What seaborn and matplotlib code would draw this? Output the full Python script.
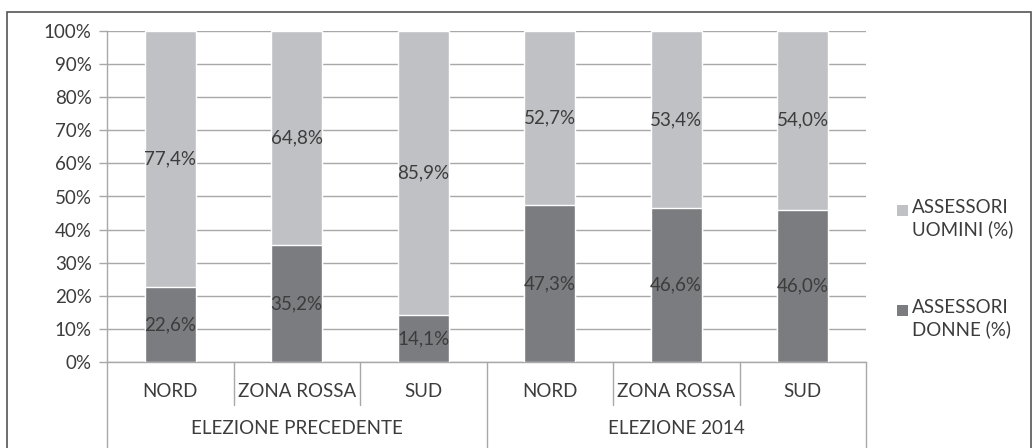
import pandas as pd
import matplotlib
matplotlib.use('Agg')
import matplotlib.pyplot as plt
import seaborn as sns
from matplotlib.patches import Rectangle

# data
groups = ['ELEZIONE PRECEDENTE', 'ELEZIONE PRECEDENTE', 'ELEZIONE PRECEDENTE',
          'ELEZIONE 2014', 'ELEZIONE 2014', 'ELEZIONE 2014']
areas = ['NORD', 'ZONA ROSSA', 'SUD', 'NORD', 'ZONA ROSSA', 'SUD']
donne = [22.6, 35.2, 14.1, 47.3, 46.6, 46.0]
uomini = [77.4, 64.8, 85.9, 52.7, 53.4, 54.0]
series_labels = ['ASSESSORI\nUOMINI (%)', 'ASSESSORI\nDONNE (%)']

df = pd.DataFrame({'key': [g + '|' + a for g, a in zip(groups, areas)],
                   'area': areas, 'group': groups,
                   'donne': donne, 'uomini': uomini})
df['totale'] = df['donne'] + df['uomini']
order = list(df['key'])

sns.set_style('white')
plt.rcParams['font.family'] = ['Lato', 'DejaVu Sans']
txt = '#3c3c3c'
light = '#c0c1c5'
dark = '#7b7c80'
line = '#a8a8a8'
fs = 13.5

W, H = 1034, 448
fig = plt.figure(figsize=(W / 100, H / 100), dpi=100)
ax = fig.add_axes([107 / W, (H - 362) / H, (866 - 107) / W, (362 - 31) / H])

sns.barplot(data=df, x='key', y='totale', order=order, color=light,
            width=0.4, saturation=1, ax=ax, zorder=2)
sns.barplot(data=df, x='key', y='donne', order=order, color=dark,
            width=0.4, saturation=1, ax=ax, zorder=3)

ax.set_xlim(-0.5, len(order) - 0.5)
ax.set_ylim(0, 100)
ax.set_yticks(range(0, 101, 10))
ax.set_yticklabels([f'{v}%' for v in range(0, 101, 10)], fontsize=fs, color=txt)
ax.yaxis.grid(True, color=line, linewidth=1, zorder=0)
ax.set_axisbelow(True)
ax.tick_params(axis='y', length=6, width=1, color=line, left=True, pad=5)
ax.set_xlabel('')
ax.set_ylabel('')
ax.set_xticks([])
for s in ['top', 'right']:
    ax.spines[s].set_visible(False)
for s in ['left', 'bottom']:
    ax.spines[s].set_color(line)
    ax.spines[s].set_linewidth(1)

# value labels centered in each segment
for i, (d, u) in enumerate(zip(donne, uomini)):
    ax.text(i, d / 2, f'{d:.1f}%'.replace('.', ','), ha='center', va='center',
            fontsize=fs, color=txt, zorder=5)
    ax.text(i, d + u / 2, f'{u:.1f}%'.replace('.', ','), ha='center', va='center',
            fontsize=fs, color=txt, zorder=5)

# multi-level category axis
tr = ax.get_xaxis_transform()
for i, a in enumerate(areas):
    ax.text(i, -0.09, a, transform=tr, ha='center', va='center', fontsize=fs, color=txt)
for i in range(1, len(areas)):
    if i == 3:
        continue
    ax.plot([i - 0.5, i - 0.5], [0, -0.13], transform=tr, color=line, lw=1, clip_on=False)
for x in [-0.5, 2.5, 5.5]:
    ax.plot([x, x], [0, -0.3], transform=tr, color=line, lw=1, clip_on=False)
ax.text(1, -0.2, 'ELEZIONE PRECEDENTE', transform=tr, ha='center', va='center',
        fontsize=fs, color=txt)
ax.text(4, -0.2, 'ELEZIONE 2014', transform=tr, ha='center', va='center',
        fontsize=fs, color=txt)

# legend, square aligned with the first text line
for lab, col, ytop in zip(series_labels, [light, dark], [199, 299]):
    fig.patches.append(Rectangle((897 / W, 1 - (ytop + 17) / H), 11 / W, 11 / H,
                                 transform=fig.transFigure, facecolor=col,
                                 edgecolor='none'))
    fig.text(912 / W, 1 - ytop / H, lab, ha='left', va='top', fontsize=fs,
             color=txt, linespacing=1.3)

# outer chart frame
fig.patches.append(Rectangle((7 / W, -0.01), (1031 - 7) / W, (H - 12) / H + 0.01,
                             transform=fig.transFigure, fill=False,
                             edgecolor='#555555', linewidth=1.2))

fig.savefig('out.png', dpi=100)
